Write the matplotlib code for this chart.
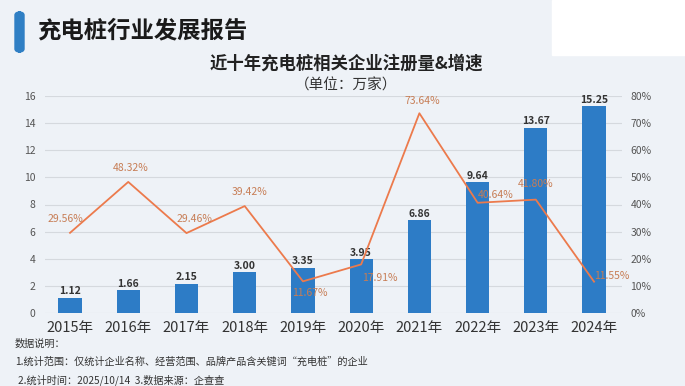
import matplotlib.pyplot as plt
from matplotlib.patches import FancyBboxPatch, Rectangle

plt.rcParams['font.family'] = ['Noto Sans CJK SC', 'DejaVu Sans']

years = ['2015年', '2016年', '2017年', '2018年', '2019年',
         '2020年', '2021年', '2022年', '2023年', '2024年']
counts = [1.12, 1.66, 2.15, 3.00, 3.35, 3.95, 6.86, 9.64, 13.67, 15.25]
growth = [29.56, 48.32, 29.46, 39.42, 11.67, 17.91, 73.64, 40.64, 41.80, 11.55]
growth_labels = ['29.56%', '48.32%', '29.46%', '39.42%', '11.67%',
                 '17.91%', '73.64%', '40.64%', '41.80%', '11.55%']
# label offsets in pixels for the growth labels
offs = [(-5, 14), (2, 14), (8, 14), (5, 14), (7, -12), (19, -14), (3, 12), (18, 8), (0, 16), (18, 6)]

bar_color = '#2d7cc6'
line_color = '#ec7a4c'
label_color = '#c77d55'

fig = plt.figure(figsize=(6.85, 3.86), dpi=100)
fig.patch.set_facecolor('#eef2f7')

# header
fig.patches.append(FancyBboxPatch((15 / 685, 1 - 52 / 386), 9 / 685, 40 / 386,
                                  boxstyle='round,pad=0,rounding_size=0.008',
                                  transform=fig.transFigure, color='#2f7fc4'))
fig.patches.append(Rectangle((552 / 685, 1 - 55 / 386), 133 / 685, 55 / 386,
                             transform=fig.transFigure, color='white'))
fig.text(37 / 685, 1 - 30 / 386, '充电桩行业发展报告', fontsize=16.8, fontweight='bold',
         color='#1a1a1a', va='center')
fig.text(346 / 685, 1 - 64 / 386, '近十年充电桩相关企业注册量&增速', fontsize=12.5,
         fontweight='bold', color='#222222', ha='center', va='center')
fig.text(346 / 685, 1 - 86 / 386, '（单位：万家）', fontsize=10.5, color='#333333',
         ha='center', va='center')

ax = fig.add_axes([45 / 685, 1 - 313 / 386, 577 / 685, 217 / 386])
ax.set_facecolor('none')
x = list(range(len(years)))
ax.bar(x, counts, width=0.4, color=bar_color, zorder=2)
for xi, v in zip(x, counts):
    ax.annotate(f'{v:.2f}', (xi, v), xytext=(0, 1), textcoords='offset points',
                ha='center', va='bottom', fontsize=7.5, fontweight='bold', color='#333333')
ax.set_ylim(0, 16)
ax.set_yticks(range(0, 17, 2))
ax.set_xlim(-0.43, 9.48)
ax.set_xticks(x)
ax.set_xticklabels(years, fontsize=10.5, color='#333333')
ax.tick_params(axis='x', length=0, pad=6)
ax.tick_params(axis='y', length=0, labelsize=7.5, labelcolor='#555555', pad=7)
ax.grid(axis='y', color='#d5d9de', linewidth=0.8, zorder=0)
for s in ax.spines.values():
    s.set_visible(False)

ax2 = ax.twinx()
ax2.plot(x, growth, color=line_color, linewidth=1.3, zorder=3)
for xi, g, lab, (dx, dy) in zip(x, growth, growth_labels, offs):
    ax2.annotate(lab, (xi, g), xytext=(dx, dy), textcoords='offset pixels',
                 ha='center', va='center', fontsize=7.5, color=label_color)
ax2.set_ylim(0, 80)
ax2.set_yticks(range(0, 81, 10))
ax2.set_yticklabels([f'{v}%' for v in range(0, 81, 10)])
ax2.tick_params(axis='y', length=0, labelsize=7.5, labelcolor='#555555', pad=6)
for s in ax2.spines.values():
    s.set_visible(False)

fig.text(15 / 685, 1 - 344 / 386, '数据说明：', fontsize=7.3, color='#333333', va='center')
fig.text(15 / 685, 1 - 362 / 386,
         '1.统计范围：仅统计企业名称、经营范围、品牌产品含关键词“充电桩”的企业',
         fontsize=7.3, color='#333333', va='center')
fig.text(18 / 685, 1 - 380 / 386, '2.统计时间：2025/10/14  3.数据来源：企查查',
         fontsize=7.3, color='#333333', va='center')

fig.savefig('out.png', dpi=100, facecolor=fig.get_facecolor())
